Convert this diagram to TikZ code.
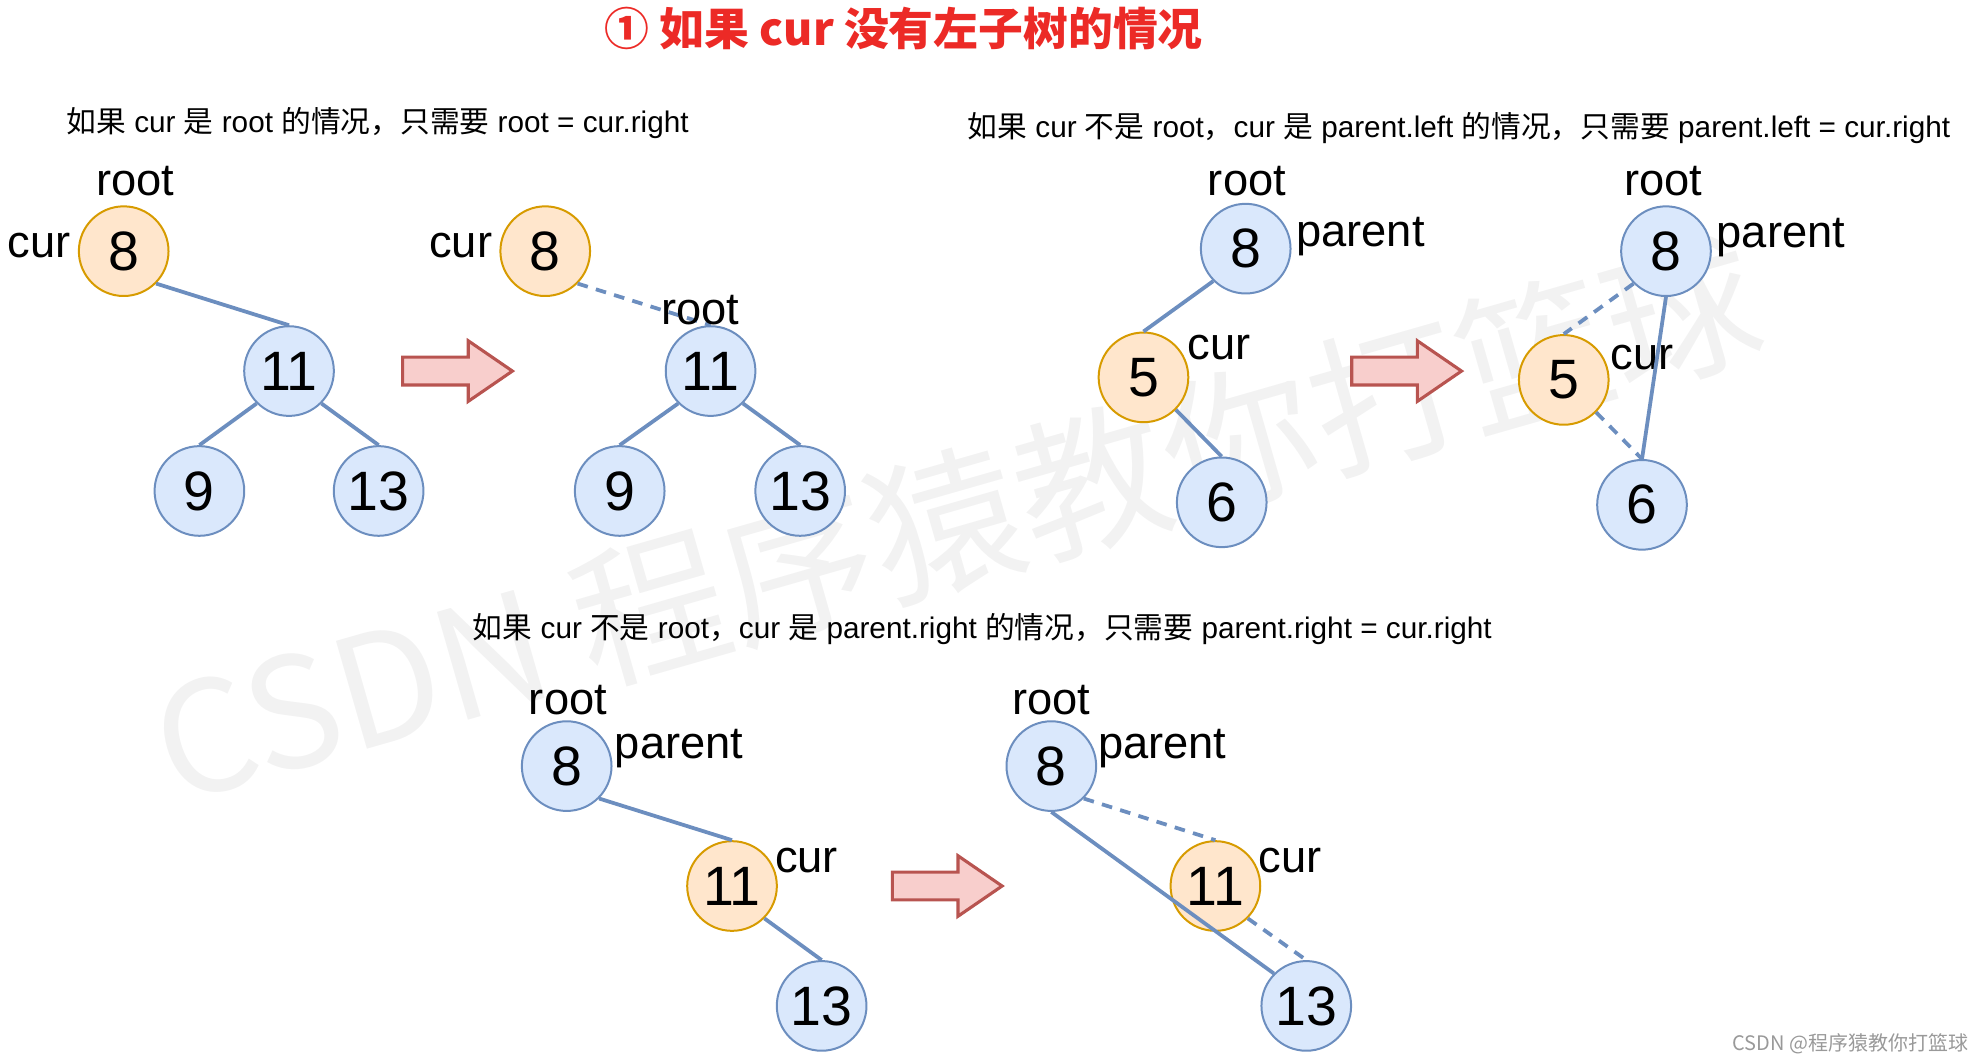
\documentclass[tikz,border=0pt]{standalone}
\usepackage{fontspec}
\setmainfont{Liberation Sans}
\newfontfamily\cjk{Noto Sans CJK SC}
\definecolor{nodeblue}{HTML}{6C8EBF}
\definecolor{fillblue}{HTML}{DAE8FC}
\definecolor{nodeorange}{HTML}{D79B00}
\definecolor{fillorange}{HTML}{FFE6CC}
\definecolor{arrowred}{HTML}{B85450}
\definecolor{fillred}{HTML}{F8CECC}
\definecolor{titlered}{HTML}{EC2A26}
\tikzset{
  num/.style={circle,draw=nodeblue,fill=fillblue,line width=0.45pt,minimum size=0.71cm,inner sep=0pt,font=\fontsize{12.5}{14}\selectfont},
  curnum/.style={num,draw=nodeorange,fill=fillorange},
  tag/.style={inner sep=0pt,anchor=base,font=\fontsize{10.2}{12}\selectfont},
  note/.style={inner sep=0pt,anchor=base west,font=\fontsize{6.7}{8}\selectfont},
  link/.style={draw=nodeblue,line width=0.85pt},
  oldlink/.style={link,dash pattern=on 2.4pt off 1.9pt},
  bigarrow/.style={draw=arrowred,fill=fillred,line width=0.7pt,line join=miter}
}
\begin{document}
\begin{tikzpicture}[x=0.01cm,y=-0.01cm]
    \useasboundingbox (0,0) rectangle (1568,842);
    \node[rotate=16,text=black!5,font=\cjk\fontsize{34.5}{36}\selectfont] (mark) at (758,412) {CSDN 程序猿教你打篮球};
    \node[anchor=base,inner sep=0pt,text=titlered,font=\cjk\bfseries\fontsize{10.1}{12}\selectfont] (title) at (716,36) {① 如果 cur 没有左子树的情况};

    % cur is root
    \node[note] (textroot) at (52,105) {{\cjk 如果} cur {\cjk 是} root {\cjk 的情况，只需要} root = cur.right};
    \node[curnum] (a8) at (98,199) {8};
    \node[num] (a11) at (229,294) {11};
    \node[num] (a9) at (158,389) {9};
    \node[num] (a13) at (300,389) {13};
    \node[tag] (a8root) at (107,155) {root};
    \node[tag] (a8cur) at (31,204) {cur};
    \draw[link] (a8.south east) -- (a11.north);
    \draw[link] (a11.south west) -- (a9.north);
    \draw[link] (a11.south east) -- (a13.north);

    \node[curnum] (b8) at (432,199) {8};
    \node[num] (b11) at (563,294) {11};
    \node[num] (b9) at (491,389) {9};
    \node[num] (b13) at (634,389) {13};
    \node[tag] (b8cur) at (365,204) {cur};
    \draw[oldlink] (b8.south east) -- (b11.north);
    \draw[link] (b11.south west) -- (b9.north);
    \draw[link] (b11.south east) -- (b13.north);
    \node[tag] (b11root) at (555,257) {root};

    % cur is parent.left
    \node[note] (textleft) at (766,109) {{\cjk 如果} cur {\cjk 不是} root{\cjk ，}cur {\cjk 是} parent.left {\cjk 的情况，只需要} parent.left = cur.right};
    \node[num] (c8) at (987,197) {8};
    \node[curnum] (c5) at (906,299) {5};
    \node[num] (c6) at (968,398) {6};
    \node[tag] (c8root) at (988,155) {root};
    \node[tag] (c8parent) at (1078,195) {parent};
    \node[tag] (c5cur) at (966,285) {cur};
    \draw[link] (c8.south west) -- (c5.north);
    \draw[link] (c5.south east) -- (c6.north);

    \node[num] (d8) at (1320,199) {8};
    \node[curnum] (d5) at (1239,301) {5};
    \node[num] (d6) at (1301,400) {6};
    \node[tag] (d8root) at (1318,155) {root};
    \node[tag] (d8parent) at (1411,196) {parent};
    \node[tag] (d5cur) at (1301,293) {cur};
    \draw[oldlink] (d8.south west) -- (d5.north);
    \draw[oldlink] (d5.south east) -- (d6.north);
    \draw[link] (d8.south) -- (d6.north);

    % cur is parent.right
    \node[note] (textright) at (374,506) {{\cjk 如果} cur {\cjk 不是} root{\cjk ，}cur {\cjk 是} parent.right {\cjk 的情况，只需要} parent.right = cur.right};
    \node[num] (e8) at (449,607) {8};
    \node[curnum] (e11) at (580,702) {11};
    \node[num] (e13) at (651,797) {13};
    \node[tag] (e8root) at (450,566) {root};
    \node[tag] (e8parent) at (538,601) {parent};
    \node[tag] (e11cur) at (639,691) {cur};
    \draw[link] (e8.south east) -- (e11.north);
    \draw[link] (e11.south east) -- (e13.north);

    \node[num] (f8) at (833,607) {8};
    \node[curnum] (f11) at (963,702) {11};
    \node[num] (f13) at (1035,797) {13};
    \node[tag] (f8root) at (833,566) {root};
    \node[tag] (f8parent) at (921,601) {parent};
    \node[tag] (f11cur) at (1022,691) {cur};
    \draw[oldlink] (f8.south east) -- (f11.north);
    \draw[oldlink] (f11.south east) -- (f13.north);
    \draw[link] (f8.south) -- (f13.north west);

    \foreach \ax/\ay in {319/294,1071/294,707/702}
        \draw[bigarrow] (\ax,\ay) ++(0,-11) -- ++(52,0) -- ++(0,-13) -- ++(35,24) -- ++(-35,24) -- ++(0,-13) -- ++(-52,0) -- cycle;

    \node[anchor=base east,inner sep=0pt,text=black!40,font=\cjk\fontsize{4.5}{6}\selectfont] (credit) at (1560,832) {CSDN @程序猿教你打篮球};
\end{tikzpicture}
\end{document}
